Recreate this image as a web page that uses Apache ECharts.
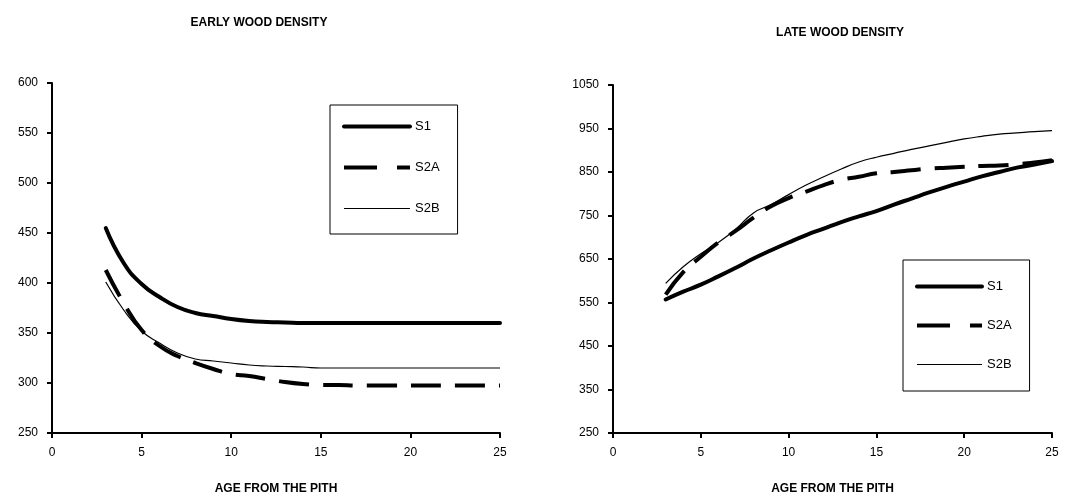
<!DOCTYPE html>
<html><head><meta charset="utf-8">
<script src="https://cdn.jsdelivr.net/npm/echarts@6/dist/echarts.min.js"></script>
<style>html,body{margin:0;padding:0;background:#fff}#c{width:1076px;height:500px}</style>
</head><body><div id="c"></div>
<script>
const ages = [3,4,5,6,7,8,9,10,11,12,13,14,15,16,17,18,19,20,21,22,23,24,25];
const earlyS1  = [455,420,399,386,376,370,367,364,362,361,360.5,360,360,360,360,360,360,360,360,360,360,360,360];
const earlyS2A = [413,380,353,337,327,320,314,309,307,304,301,299,298,298,297.5,297.5,297.5,297.5,297.5,297.5,297.5,297.5,297.5];
const earlyS2B = [401,373,352,340,330,324,322,320,318,317,316.5,316,315,315,315,315,315,315,315,315,315,315,315];
const lateS1   = [557,575,591,610,630,651,670,688,705,720,735,748,760,775,789,803,816,828,840,850,860,867,875];
const lateS2A  = [568,620,655,688,715,745,771,790,805,820,832,839,847,850,854,858,860,862,864,865,868,872,877];
const lateS2B  = [594,632,662,688,719,756,775,798,820,839,857,873,884,893,902,910,918,926,932,937,940,943,945];
const xTicks = {min:0, max:25, interval:5};
const earlyY = {min:250, max:600, interval:50};
const lateY  = {min:250, max:1050, interval:100};
const names = ['S1','S2A','S2B'];

const font = '"Liberation Sans", Arial, sans-serif';
const pair = a => ages.map((x,i)=>[x,a[i]]);
const styles = [
  {width:4, type:'solid', cap:'round'},
  {width:4, type:[30,14]},
  {width:1.2, type:'solid'}
];
const legendLines = [
  {color:'#000', width:4, type:'solid', cap:'round'},
  {color:'#000', width:4, type:[33,20]},
  {color:'#000', width:1.2, type:'solid'}
];
function mkSeries(arrs, idx){
  return arrs.map((a,i)=>({
    name:names[i], type:'line', xAxisIndex:idx, yAxisIndex:idx,
    data:pair(a), symbol:'none', smooth:true,
    lineStyle:Object.assign({color:'#000'}, styles[i]), itemStyle:{color:'#000'}
  }));
}
function xAx(idx){
  return {gridIndex:idx, type:'value', min:xTicks.min, max:xTicks.max, interval:xTicks.interval,
    name:'AGE FROM THE PITH', nameLocation:'middle', nameGap:50,
    nameTextStyle:{fontFamily:font, fontWeight:'bold', fontSize:12, color:'#000'},
    axisLine:{onZero:false, lineStyle:{color:'#000', width:2}},
    axisTick:{length:5, lineStyle:{color:'#000', width:2}},
    axisLabel:{fontFamily:font, fontSize:12, color:'#000', margin:14},
    splitLine:{show:false}};
}
function yAx(idx, r){
  return {gridIndex:idx, type:'value', min:r.min, max:r.max, interval:r.interval,
    axisLine:{show:true, lineStyle:{color:'#000', width:2}},
    axisTick:{show:true, length:5, lineStyle:{color:'#000', width:2}},
    axisLabel:{fontFamily:font, fontSize:12, color:'#000', margin:14, formatter:v=>String(v)},
    splitLine:{show:false}};
}
const legendData = names.map((n,i)=>({name:n, lineStyle:legendLines[i]}));
const chart = echarts.init(document.getElementById('c'));
chart.setOption({
  animation:false,
  title:[
    {text:'EARLY WOOD DENSITY', left:254, top:12, textAlign:'center',
     textStyle:{fontFamily:font, fontWeight:'bold', fontSize:12, color:'#000'}},
    {text:'LATE WOOD DENSITY', left:835, top:22, textAlign:'center',
     textStyle:{fontFamily:font, fontWeight:'bold', fontSize:12, color:'#000'}}
  ],
  grid:[
    {left:52, top:83, width:448, height:355},
    {left:613, top:85, width:439, height:354}
  ],
  xAxis:[xAx(0), xAx(1)],
  yAxis:[yAx(0, earlyY), yAx(1, lateY)],
  legend:[
    {data:legendData, orient:'vertical', left:330, top:105, itemWidth:66, itemHeight:14, itemGap:28,
     padding:[15,18,19,12], borderColor:'#000', borderWidth:1, selectedMode:false,
     itemStyle:{opacity:0},
     textStyle:{fontFamily:font, fontSize:13, color:'#000'}},
    {data:legendData, orient:'vertical', left:903, top:260, itemWidth:65, itemHeight:14, itemGap:26,
     padding:[20,18,20,12], borderColor:'#000', borderWidth:1, selectedMode:false,
     itemStyle:{opacity:0},
     textStyle:{fontFamily:font, fontSize:13, color:'#000'}}
  ],
  series:[...mkSeries([earlyS1, earlyS2A, earlyS2B],0), ...mkSeries([lateS1, lateS2A, lateS2B],1)]
});
</script></body></html>
